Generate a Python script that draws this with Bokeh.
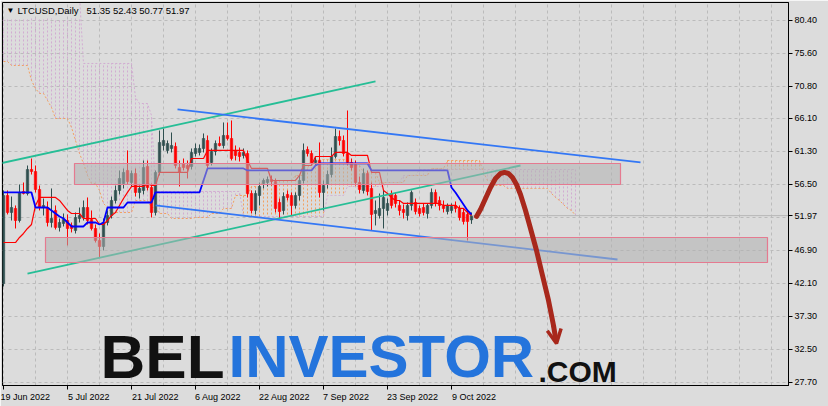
import numpy as np
from bokeh.plotting import figure
from bokeh.models import FixedTicker, PrintfTickFormatter, Arrow, OpenHead, Range1d
from bokeh.core.properties import value
from bokeh.embed import file_html
from bokeh.resources import INLINE

# ---------------- data ----------------
symbol = "LTCUSD,Daily"
date_ticks = [0, 16, 32, 48, 64, 80, 96, 112]          # bar index of each date label
date_labels = ["19 Jun 2022", "5 Jul 2022", "21 Jul 2022", "6 Aug 2022",
               "22 Aug 2022", "7 Sep 2022", "23 Sep 2022", "9 Oct 2022"]
price_ticks = [27.70, 32.50, 37.30, 42.10, 46.90, 51.97, 56.50, 61.30, 66.10, 70.80, 75.60, 80.40]
grid_prices = [27.70, 32.50, 37.30, 42.10, 46.90, 51.70, 56.50, 61.30, 66.10, 70.80, 75.60, 80.40]

opens = [42.10, 54.90, 52.43, 53.01, 51.26, 55.48, 55.19, 58.68, 58.39, 55.77,
         53.15, 53.15, 50.97, 52.72, 50.25, 50.83, 51.26, 50.54, 49.81, 51.55,
         51.70, 53.15, 51.41, 50.10, 48.35, 47.48, 50.97, 51.99, 54.17, 55.63,
         56.65, 58.54, 56.79, 58.10, 55.34, 55.63, 59.12, 56.06, 52.43, 58.25,
         62.17, 61.45, 61.74, 62.03, 58.97, 59.55, 59.26, 59.12, 61.01, 61.16,
         61.74, 62.90, 59.70, 61.30, 62.46, 62.17, 63.63, 63.19, 61.45, 61.16,
         60.72, 61.01, 55.19, 52.72, 54.90, 56.65, 56.79, 57.23, 56.94, 53.88,
         52.72, 55.05, 54.90, 53.45, 54.90, 57.08, 61.59, 61.01, 59.70, 59.99,
         55.34, 56.50, 57.95, 60.57, 63.48, 62.90, 61.01, 59.70, 59.41, 56.79,
         55.63, 58.10, 55.92, 52.28, 51.99, 53.01, 52.72, 55.19, 54.90, 53.45,
         52.86, 51.99, 53.45, 53.88, 53.01, 53.15, 52.28, 53.45, 55.34, 54.17,
         53.45, 52.57, 52.72, 53.45, 53.01, 52.43, 52.14, 51.35]
highs = [55.63, 55.63, 54.75, 53.45, 56.50, 56.79, 59.26, 60.28, 59.26, 56.35,
         54.46, 54.03, 55.92, 53.45, 51.55, 52.28, 52.14, 50.97, 52.43, 53.15,
         54.17, 54.61, 52.72, 50.68, 49.37, 51.55, 52.72, 54.75, 56.35, 58.54,
         58.83, 61.45, 58.54, 58.83, 56.35, 59.99, 59.99, 56.65, 58.54, 64.35,
         64.64, 62.90, 64.06, 62.61, 59.99, 60.28, 59.99, 61.74, 62.46, 62.32,
         63.92, 63.63, 61.74, 62.90, 63.48, 65.52, 65.52, 65.81, 62.17, 61.88,
         61.74, 61.45, 55.63, 55.63, 56.79, 57.37, 57.66, 57.81, 57.37, 54.46,
         55.34, 55.63, 55.34, 55.34, 57.81, 62.46, 62.03, 61.45, 60.57, 62.61,
         57.08, 58.54, 61.88, 64.64, 64.35, 63.63, 67.26, 60.28, 59.99, 57.66,
         58.83, 58.54, 56.79, 54.17, 55.19, 55.63, 54.46, 55.63, 55.34, 54.17,
         53.59, 53.88, 55.63, 54.46, 53.45, 53.74, 53.74, 55.92, 55.77, 54.75,
         54.17, 53.74, 53.74, 54.03, 53.45, 53.01, 52.72, 52.43]
lows = [41.66, 52.14, 51.26, 50.10, 50.97, 55.05, 54.90, 57.95, 55.34, 52.72,
        51.99, 50.39, 50.25, 49.95, 49.66, 50.39, 47.63, 49.52, 49.37, 50.97,
        51.26, 50.68, 49.81, 48.06, 45.88, 46.90, 50.54, 51.55, 53.74, 55.05,
        55.92, 56.50, 56.21, 54.75, 54.46, 55.05, 55.63, 51.70, 51.99, 57.81,
        61.45, 61.01, 61.16, 58.83, 56.21, 58.54, 57.37, 58.68, 60.57, 60.72,
        61.16, 58.83, 59.26, 60.72, 62.03, 61.74, 62.90, 59.99, 59.99, 59.84,
        60.28, 54.61, 52.28, 52.14, 53.45, 55.92, 56.21, 56.35, 52.43, 51.55,
        52.14, 54.17, 51.99, 53.01, 54.17, 56.65, 60.57, 59.26, 59.26, 54.61,
        52.72, 55.92, 57.52, 60.28, 62.17, 60.57, 59.26, 58.54, 56.35, 55.19,
        55.19, 54.90, 49.81, 50.54, 51.55, 50.10, 51.99, 53.01, 53.15, 51.99,
        51.55, 51.26, 52.72, 52.14, 51.85, 51.99, 51.55, 53.01, 53.30, 52.72,
        52.43, 52.14, 52.28, 52.43, 51.26, 50.68, 48.35, 50.77]
closes = [54.90, 52.43, 53.15, 51.26, 55.34, 55.19, 58.68, 58.39, 55.77, 53.15,
          53.45, 50.97, 51.55, 50.25, 50.97, 51.41, 50.10, 50.10, 51.70, 51.99,
          53.15, 51.26, 50.10, 48.35, 47.48, 50.97, 51.99, 54.17, 55.63, 57.37,
          58.25, 56.94, 58.10, 55.34, 55.92, 58.97, 56.06, 52.43, 58.25, 62.61,
          62.90, 62.46, 62.17, 59.26, 58.25, 58.97, 58.83, 61.16, 61.74, 61.74,
          63.19, 59.26, 61.30, 62.46, 62.17, 63.63, 63.19, 60.28, 60.72, 60.57,
          61.16, 55.19, 52.72, 55.19, 56.21, 57.08, 57.23, 56.94, 53.01, 52.57,
          54.75, 54.61, 53.45, 54.90, 57.08, 61.45, 61.01, 59.70, 59.99, 55.34,
          56.35, 57.95, 60.57, 63.48, 62.90, 61.01, 59.70, 58.97, 56.79, 55.77,
          58.10, 55.48, 52.14, 52.72, 53.01, 54.61, 53.74, 53.45, 53.74, 52.72,
          52.43, 53.45, 55.34, 52.57, 52.28, 52.43, 53.45, 55.34, 53.74, 53.45,
          53.01, 53.45, 53.30, 53.01, 51.70, 51.12, 51.12, 51.97]

# Ichimoku lines, as runs of (number of bars, value)
tenkan_runs = [(4, 48.06), (1, 48.79), (1, 49.37), (1, 50.10), (1, 50.68), (1, 53.45),
               (5, 54.61), (1, 54.17), (1, 53.45), (1, 52.72), (3, 52.28), (4, 51.55),
               (2, 50.68), (1, 51.26), (1, 51.99), (1, 52.43), (1, 53.45), (1, 54.46),
               (1, 55.34), (4, 56.21), (1, 56.65), (2, 56.35), (8, 58.25), (4, 60.28),
               (10, 61.45), (1, 59.99), (5, 58.83), (7, 57.08), (1, 57.81), (3, 59.26),
               (5, 60.57), (4, 61.16), (5, 60.72), (3, 58.25), (1, 55.63), (1, 55.19),
               (1, 54.61), (2, 54.17), (10, 53.74), (4, 53.45), (2, 53.01), (1, 52.43),
               (1, 51.99)]
kijun_runs = [(8, 55.34), (4, 53.15), (1, 52.72), (1, 52.28), (1, 51.85), (1, 51.55),
              (1, 50.97), (4, 50.39), (3, 50.97), (1, 50.68), (1, 50.97), (5, 53.15),
              (7, 53.88), (12, 55.34), (1, 57.08), (10, 58.83), (17, 58.54), (1, 59.26),
              (13, 59.55), (20, 58.54), (1, 56.06), (1, 55.34), (1, 54.46), (1, 53.59),
              (1, 52.72), (1, 52.14)]
span_a_runs = [(2, 74.39), (5, 73.81), (1, 71.63), (1, 70.46), (2, 69.74), (1, 68.72),
               (1, 67.70), (4, 66.10), (1, 64.79), (1, 62.90), (1, 61.01), (1, 59.55),
               (1, 57.81), (2, 56.65), (1, 55.63), (1, 53.74), (1, 53.15), (6, 52.43),
               (4, 54.17), (2, 53.15), (3, 52.28), (6, 51.55), (4, 51.70), (3, 52.28),
               (3, 53.01), (4, 54.90), (3, 56.21), (8, 57.08), (3, 57.81), (1, 58.83),
               (10, 60.14), (3, 59.26), (4, 58.25), (7, 56.79), (6, 57.81), (4, 58.83),
               (9, 59.99), (1, 58.25), (2, 57.08), (3, 56.35), (11, 55.92), (1, 55.19),
               (1, 54.61), (1, 54.17), (1, 53.59), (1, 53.01), (1, 52.72), (1, 51.99)]
span_b_runs = [(20, 84.00), (13, 74.10), (1, 69.16), (3, 68.28), (1, 66.54), (22, 55.48),
               (21, 51.85), (5, 54.90), (10, 56.21), (4, 56.79), (4, 57.81), (40, 58.68)]

# drawn objects: channels, zones, projected path (bar index, price)
green_upper = ([-1.0, 93.0], [59.55, 71.48])
green_lower = ([6.0, 129.25], [43.55, 59.26])
blue_upper = ([43.5, 159.25], [67.41, 59.70])
blue_lower = ([38.0, 153.5], [53.45, 45.59])
zone_upper = (17.75, 154.25, 56.50, 59.55)     # left, right, bottom, top
zone_lower = (10.5, 191.0, 45.15, 48.79)
path_x = [118.25, 119.25, 120.5, 121.75, 123.0, 124.25, 125.25, 126.25, 127.25,
          128.25, 129.25, 130.5, 131.75, 133.25, 134.75, 136.25, 137.5]
path_y = [51.85, 52.86, 54.46, 56.06, 57.37, 58.10, 58.25, 58.10, 57.52,
          56.50, 55.05, 52.72, 50.10, 46.90, 43.26, 39.63, 35.99]
path_tip = (138.25, 33.37)


def expand(runs):
    out = []
    for n, v in runs:
        out += [v] * n
    return np.array(out)


# approximate advance widths (em) of the label font, used to left-align date labels
CHAR_W = {" ": 0.278, "J": 0.5, "A": 0.667, "S": 0.667, "O": 0.778,
          "u": 0.556, "n": 0.556, "l": 0.222, "g": 0.556, "e": 0.556, "p": 0.556,
          "c": 0.5, "t": 0.278}


def left_aligned(text, first):
    if first:          # the first label is pushed inside the canvas edge by Bokeh
        return text
    em = sum(CHAR_W.get(ch, 0.556) for ch in text)
    return "\u00a0" * int(round(em / 0.278)) + text


BG = "#DCDCDC"
BULL = "#2F4F4F"
BEAR = "#FF0000"
FONT_NAME = "Liberation Sans"
FONT = value(FONT_NAME)

p = figure(frame_width=786, frame_height=383,
           x_range=Range1d(-0.25, 196.25), y_range=Range1d(27.26, 82.97),
           output_backend="svg", toolbar_location=None, y_axis_location="right",
           min_border_left=2, min_border_top=2, min_border_right=40, min_border_bottom=21,
           background_fill_color=BG, border_fill_color=BG, outline_line_color="black")

# axes
p.yaxis.ticker = FixedTicker(ticks=price_ticks)
p.yaxis.formatter = PrintfTickFormatter(format="%.2f")
p.xaxis.ticker = FixedTicker(ticks=date_ticks)
p.xaxis.major_label_overrides = {t: left_aligned(lab, k == 0)
                                 for k, (t, lab) in enumerate(zip(date_ticks, date_labels))}
for ax in (p.xaxis[0], p.yaxis[0]):
    ax.axis_line_color = "black"
    ax.major_tick_line_color = "black"
    ax.major_tick_out = 4
    ax.major_tick_in = 0
    ax.minor_tick_line_color = None
    ax.major_label_standoff = 2
    ax.major_label_text_font = FONT_NAME
    ax.major_label_text_font_size = "9px"
    ax.major_label_text_color = "black"
p.xgrid.ticker = FixedTicker(ticks=list(range(0, 196, 8)))
p.ygrid.ticker = FixedTicker(ticks=grid_prices)
for g in (p.xgrid[0], p.ygrid[0]):
    g.grid_line_color = "#BBBBBB"
    g.grid_line_dash = "3 3"

# Ichimoku cloud
UP_CLOUD = "#F2A060"
DN_CLOUD = "#D2ACD2"
sa = expand(span_a_runs)
sb = expand(span_b_runs)
ci = np.arange(len(sa))
top_cap = np.minimum(sb, 80.65)
up = sa >= sb
p.segment(ci[up], sa[up], ci[up], top_cap[up], line_color=UP_CLOUD, line_dash="2 2", line_width=1)
p.segment(ci[~up], sa[~up], ci[~up], top_cap[~up], line_color=DN_CLOUD, line_dash="2 2", line_width=1)
p.line(ci, sa, line_color=UP_CLOUD, line_dash="2 2", line_width=1)
p.line(ci, sb, line_color=DN_CLOUD, line_dash="2 2", line_width=1)

# candles
o = np.array(opens); h = np.array(highs); l = np.array(lows); c = np.array(closes)
idx = np.arange(len(o))
bull = c >= o
for mask, col in ((bull, BULL), (~bull, BEAR)):
    p.segment(idx[mask], h[mask], idx[mask], l[mask], line_color=col, line_width=1)
    p.vbar(x=idx[mask], width=0.6, top=np.maximum(o, c)[mask], bottom=np.minimum(o, c)[mask],
           fill_color=col, line_color=col, line_width=0.6)

# current price line
p.line([idx[-1], 196.25], [closes[-1], closes[-1]], line_color="#B8B8B8", line_width=1)

# Tenkan / Kijun
tk = expand(tenkan_runs)
kj = expand(kijun_runs)
p.line(np.arange(len(tk)), tk, line_color="#FF0000", line_width=1.2)
p.line(np.arange(len(kj)), kj, line_color="#0000FF", line_width=1.8)

# channels
for (xs, ys), col in ((green_upper, "#26BE96"), (green_lower, "#26BE96"),
                      (blue_upper, "#3377F5"), (blue_lower, "#3377F5")):
    p.line(xs, ys, line_color=col, line_width=1.8)

# zones
for lft, rgt, bot, tp in (zone_upper, zone_lower):
    p.quad(left=lft, right=rgt, bottom=bot, top=tp, fill_color="#B0B0B0", fill_alpha=0.55,
           line_color="#E57A90", line_width=1.2)

# projected path
p.line(path_x, path_y, line_color="#A8281C", line_width=5, line_cap="round")
p.add_layout(Arrow(end=OpenHead(size=14, line_color="#A8281C", line_width=3.5),
                   x_start=path_x[-1], y_start=path_y[-1], x_end=path_tip[0], y_end=path_tip[1],
                   line_color="#A8281C", line_width=5))

# watermark
WM = value("Liberation Sans")
p.text(x=[24.25], y=[31.48], text=["BEL"], text_font=WM, text_font_style="bold",
       text_font_size="62px", text_color="#111111", text_baseline="middle")
p.text(x=[56.25], y=[31.41], text=["INVESTOR"], text_font=WM, text_font_style="bold",
       text_font_size="60px", text_color="#2474DC", text_baseline="middle")
p.text(x=[133.75], y=[29.30], text=[".COM"], text_font=WM, text_font_style="bold",
       text_font_size="30px", text_color="#111111", text_baseline="middle")

# title
last = f"{opens[-1]:.2f} {highs[-1]:.2f} {lows[-1]:.2f} {closes[-1]:.2f}"
p.text(x=[0.75], y=[81.81], text=["\u25BC"], text_font=FONT, text_font_size="8px",
       text_color="black", text_baseline="middle")
p.text(x=[3.5], y=[81.81], text=[symbol], text_font=FONT, text_font_size="9.5px",
       text_color="black", text_baseline="middle")
p.text(x=[20.75], y=[81.81], text=[last], text_font=FONT, text_font_size="9.5px",
       text_color="black", text_baseline="middle")

open("out.html", "w").write(file_html(p, INLINE))
